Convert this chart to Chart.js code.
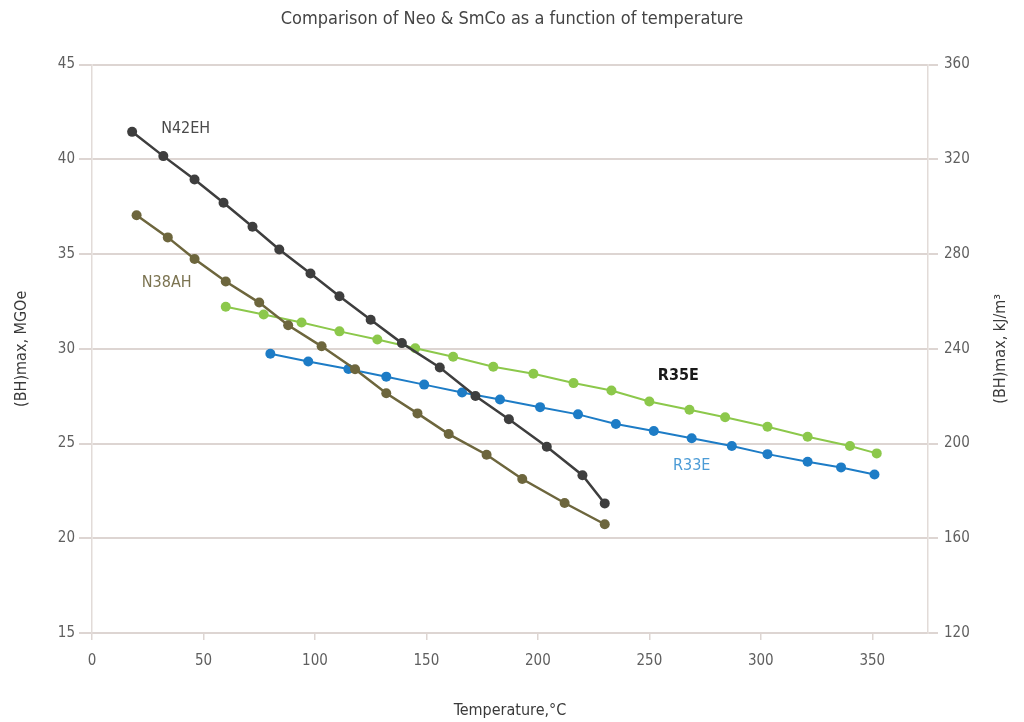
<!DOCTYPE html>
<html>
<head>
<meta charset="utf-8">
<script src="https://cdn.jsdelivr.net/npm/chart.js@4/dist/chart.umd.min.js"></script>
<style>
  html, body { margin: 0; padding: 0; background: #ffffff; }
  #wrap { width: 1024px; height: 722px; }
</style>
</head>
<body>
<div id="wrap"><canvas id="c" width="1024" height="722"></canvas></div>
<script>
// Temperature (°C) and (BH)max (MGOe) per grade
const tempN42EH = [18, 32, 46, 59, 72, 84, 98, 111, 125, 139, 156, 172, 187, 204, 220, 230];
const bhN42EH   = [41.45, 40.17, 38.94, 37.71, 36.44, 35.24, 33.97, 32.77, 31.53, 30.30, 29.01, 27.51, 26.28, 24.83, 23.33, 21.84];

const tempN38AH = [20, 34, 46, 60, 75, 88, 103, 118, 132, 146, 160, 177, 193, 212, 230];
const bhN38AH   = [37.05, 35.88, 34.74, 33.55, 32.44, 31.24, 30.13, 28.92, 27.65, 26.59, 25.50, 24.41, 23.13, 21.86, 20.74];

const tempR35E = [60, 77, 94, 111, 128, 145, 162, 180, 198, 216, 233, 250, 268, 284, 303, 321, 340, 352];
const bhR35E   = [32.22, 31.81, 31.39, 30.92, 30.49, 30.03, 29.58, 29.05, 28.68, 28.19, 27.80, 27.22, 26.78, 26.39, 25.89, 25.36, 24.87, 24.48];

const tempR33E = [80, 97, 115, 132, 149, 166, 183, 201, 218, 235, 252, 269, 287, 303, 321, 336, 351];
const bhR33E   = [29.74, 29.33, 28.93, 28.53, 28.11, 27.69, 27.32, 26.92, 26.54, 26.03, 25.66, 25.28, 24.87, 24.44, 24.04, 23.74, 23.37];

// Series names and where their labels sit (temperature, MGOe)
const seriesNames = ['N42EH', 'N38AH', 'R35E', 'R33E'];
const labelTemp   = [42, 33.5, 263, 269];
const labelBH     = [41.6, 33.5, 28.57, 23.8];

const FONT = "'Liberation Sans Narrow', 'Arial Narrow', 'DejaVu Sans Condensed', sans-serif";
const GRID = '#ddd5d2';
const TICK_TEXT = '#5f5f5f';

const seriesColors = ['#3e3e3e', '#6d663d', '#8cc84b', '#1d7cc6'];
const labelColors  = ['#4a4a4a', '#7b7350', '#1a1a1a', '#4b9bd6'];
const labelWeights = ['normal', 'normal', 'bold', 'normal'];

function toPoints(xs, ys) { return xs.map((x, i) => ({ x: x, y: ys[i] })); }

function lineSet(name, xs, ys, color, width) {
  return {
    label: name,
    data: toPoints(xs, ys),
    borderColor: color,
    backgroundColor: color,
    pointBackgroundColor: color,
    pointBorderColor: color,
    pointRadius: 5,
    pointBorderWidth: 0,
    borderWidth: width,
    tension: 0,
    yAxisID: 'y'
  };
}

// Writes the grade names beside their curves and the right-hand axis title
const seriesLabels = {
  id: 'seriesLabels',
  afterDatasetsDraw(chart) {
    const { ctx, scales } = chart;
    ctx.save();
    ctx.textAlign = 'center';
    ctx.textBaseline = 'middle';
    seriesNames.forEach((name, i) => {
      ctx.font = labelWeights[i] + ' 16px ' + FONT;
      ctx.fillStyle = labelColors[i];
      ctx.fillText(name, scales.x.getPixelForValue(labelTemp[i]), scales.y.getPixelForValue(labelBH[i]));
    });
    ctx.restore();
  },
  afterDraw(chart) {
    const { ctx, chartArea } = chart;
    ctx.save();
    ctx.translate(1001, (chartArea.top + chartArea.bottom) / 2);
    ctx.rotate(-Math.PI / 2);
    ctx.textAlign = 'center';
    ctx.textBaseline = 'middle';
    ctx.font = '16px ' + FONT;
    ctx.fillStyle = '#3a3a3a';
    ctx.fillText('(BH)max, kJ/m³', 0, 0);
    ctx.restore();
  }
};

new Chart(document.getElementById('c'), {
  type: 'line',
  data: {
    datasets: [
      lineSet(seriesNames[0], tempN42EH, bhN42EH, seriesColors[0], 2.5),
      lineSet(seriesNames[1], tempN38AH, bhN38AH, seriesColors[1], 2.5),
      lineSet(seriesNames[2], tempR35E, bhR35E, seriesColors[2], 2),
      lineSet(seriesNames[3], tempR33E, bhR33E, seriesColors[3], 2)
    ]
  },
  options: {
    responsive: false,
    animation: false,
    layout: { padding: 0 },
    plugins: {
      legend: { display: false },
      tooltip: { enabled: false },
      title: {
        display: true,
        text: 'Comparison of Neo & SmCo as a function of temperature',
        color: '#444444',
        font: { family: FONT, size: 18, weight: 'normal' },
        padding: { top: 9, bottom: 34 }
      }
    },
    scales: {
      x: {
        type: 'linear',
        min: 0,
        max: 375,
        afterFit: (s) => { s.height = 89; },
        afterBuildTicks: (s) => { s.ticks = s.ticks.filter(t => t.value % 50 === 0); },
        ticks: { stepSize: 50, color: TICK_TEXT, font: { family: FONT, size: 15 }, padding: 12, maxRotation: 0 },
        grid: { drawOnChartArea: false, drawTicks: true, tickLength: 7, color: GRID, lineWidth: 1.5 },
        border: { display: true, color: GRID, width: 2 },
        title: {
          display: true,
          text: 'Temperature,°C',
          color: '#3a3a3a',
          font: { family: FONT, size: 16 },
          padding: { top: 0, bottom: 2 }
        }
      },
      y: {
        type: 'linear',
        position: 'left',
        min: 15,
        max: 45,
        afterFit: (s) => { s.width = 92; },
        ticks: { stepSize: 5, color: TICK_TEXT, font: { family: FONT, size: 15 }, padding: 4 },
        grid: { color: GRID, lineWidth: 2, tickLength: 13 },
        border: { display: true, color: '#e2dbd8', width: 1.5 },
        title: {
          display: true,
          text: '(BH)max, MGOe',
          color: '#3a3a3a',
          font: { family: FONT, size: 16 },
          padding: { top: 12, bottom: 0 }
        }
      },
      y2: {
        type: 'linear',
        position: 'right',
        min: 120,
        max: 360,
        afterFit: (s) => { s.width = 96; },
        ticks: { stepSize: 40, color: TICK_TEXT, font: { family: FONT, size: 15 }, padding: 6 },
        grid: { drawOnChartArea: false, color: GRID, lineWidth: 2, tickLength: 10 },
        border: { display: true, color: '#e2dbd8', width: 1.5 }
      }
    }
  },
  plugins: [seriesLabels]
});
</script>
</body>
</html>
